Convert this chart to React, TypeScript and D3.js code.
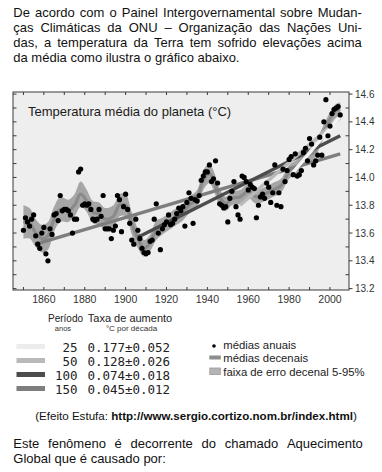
import React from 'react';
import * as d3 from 'd3';

// ---------- DATA ----------
const firstYear = 1850;
const annualMeans = [
  13.62, 13.71, 13.68, 13.65, 13.70, 13.73, 13.58, 13.52, 13.49, 13.60, // 1850s
  13.64, 13.45, 13.40, 13.63, 13.59, 13.73, 13.74, 13.69, 13.87, 13.76, // 1860s
  13.77, 13.77, 13.76, 13.73, 13.60, 13.70, 13.70, 14.04, 14.06, 13.80, // 1870s
  13.81, 13.80, 13.81, 13.77, 13.70, 13.69, 13.70, 13.77, 13.72, 13.87, // 1880s
  13.63, 13.63, 13.63, 13.56, 13.62, 13.65, 13.87, 13.84, 13.61, 13.79, // 1890s
  13.88, 13.77, 13.67, 13.55, 13.52, 13.70, 13.62, 13.56, 13.49, 13.46, // 1900s
  13.45, 13.46, 13.54, 13.55, 13.70, 13.81, 13.60, 13.48, 13.63, 13.66, // 1910s
  13.68, 13.73, 13.66, 13.67, 13.70, 13.74, 13.78, 13.76, 13.79, 13.65, // 1920s
  13.82, 13.89, 13.85, 13.67, 13.84, 13.83, 13.87, 13.98, 14.01, 14.04, // 1930s
  14.04, 14.09, 13.97, 13.99, 14.12, 13.96, 13.81, 13.80, 13.78, 13.79, // 1940s
  13.68, 13.85, 13.90, 13.97, 13.79, 13.73, 13.70, 14.01, 14.00, 13.97, // 1950s
  13.91, 13.95, 13.93, 13.92, 13.71, 13.80, 13.86, 13.88, 13.85, 13.96, // 1960s
  13.93, 13.82, 13.89, 14.09, 13.80, 13.89, 13.79, 14.06, 13.97, 14.05, // 1970s
  14.13, 14.15, 14.02, 14.17, 14.01, 14.02, 14.05, 14.18, 14.21, 14.12, // 1980s
  14.28, 14.24, 14.09, 14.12, 14.16, 14.29, 14.16, 14.40, 14.56, 14.30, // 1990s
  14.37, 14.46, 14.49, 14.50, 14.51, 14.45,                             // 2000s
];

const decadalYears = [1850, 1853, 1856, 1859, 1862, 1865, 1868, 1872, 1875, 1878, 1881, 1884, 1887, 1890, 1894, 1897, 1900, 1903, 1906, 1909, 1912, 1915, 1918, 1921, 1925, 1928, 1931, 1935, 1938, 1941, 1943, 1946, 1949, 1952, 1956, 1960, 1964, 1968, 1972, 1976, 1980, 1984, 1988, 1992, 1996, 2000, 2003, 2005];
const decadalMeans = [13.68, 13.67, 13.60, 13.56, 13.58, 13.70, 13.77, 13.76, 13.80, 13.88, 13.83, 13.75, 13.74, 13.70, 13.72, 13.80, 13.80, 13.67, 13.56, 13.49, 13.53, 13.62, 13.65, 13.68, 13.72, 13.75, 13.80, 13.85, 13.98, 14.03, 13.98, 13.86, 13.81, 13.85, 13.86, 13.90, 13.86, 13.88, 13.91, 13.94, 14.04, 14.08, 14.15, 14.18, 14.30, 14.42, 14.48, 14.49];
const decadalError = [0.12, 0.11, 0.10, 0.10, 0.10, 0.09, 0.09, 0.08, 0.08, 0.09, 0.08, 0.08, 0.08, 0.08, 0.08, 0.08, 0.08, 0.08, 0.07, 0.06, 0.06, 0.07, 0.06, 0.06, 0.06, 0.06, 0.06, 0.06, 0.07, 0.07, 0.07, 0.06, 0.05, 0.05, 0.05, 0.05, 0.05, 0.05, 0.05, 0.05, 0.05, 0.05, 0.05, 0.05, 0.05, 0.05, 0.05, 0.05];

const trendPeriods = [150, 100, 50, 25];
const trendRates = ['0.045±0.012', '0.074±0.018', '0.128±0.026', '0.177±0.052'];
const trendStartYears = [1856, 1906, 1956, 1981];
const trendEndYear = 2005;
const trendStartValues = [13.52, 13.57, 13.80, 14.02];
const trendEndValues = [14.17, 14.30, 14.43, 14.44];
const trendColors = ['#7e7e7e', '#4c4c4c', '#b9b9b9', '#f4f4f4'];

const xTickYears = d3.range(1850, 2010, 10);
const xLabelYears = [1860, 1880, 1900, 1920, 1940, 1960, 1980, 2000];
const yMinorTicks = d3.range(13.2, 14.61, 0.1);
const yLabelTicks = [13.2, 13.4, 13.6, 13.8, 14.0, 14.2, 14.4, 14.6];

const para1 = [
  'De acordo com o Painel Intergovernamental sobre Mudan-',
  'ças Climáticas da ONU – Organização das Nações Uni-',
  'das, a temperatura da Terra tem sofrido elevações acima',
  'da média como ilustra o gráfico abaixo.',
];
const para2 = [
  'Este fenômeno é decorrente do chamado Aquecimento',
  'Global que é causado por:',
];

// ---------- LAYOUT ----------
const W = 382, H = 472;
const frame = { left: 13, right: 349, top: 92, bottom: 290 };
const FONT = '"Liberation Sans", Arial, sans-serif';
const MONO = '"DejaVu Sans Mono", monospace';

const x = d3.scaleLinear().domain([1844.9, 2009.3]).range([frame.left, frame.right]);
const y = d3.scaleLinear().domain([13.19, 14.615]).range([frame.bottom, frame.top]);

let ctx: CanvasRenderingContext2D | null = null;
function measure(text: string, font: string) {
  if (!ctx) ctx = document.createElement('canvas').getContext('2d');
  if (!ctx) return text.length * 6;
  ctx.font = font;
  return ctx.measureText(text).width;
}

function Line({ text, x0, yb, width, size, justify }: any) {
  const font = `${size}px "Liberation Sans"`;
  if (!justify) {
    return <text x={x0} y={yb} fontSize={size} fontFamily={FONT} fill="#111">{text}</text>;
  }
  const words = text.split(' ');
  const ws = words.map((w: string) => measure(w, font));
  const gap = (width - d3.sum(ws)) / (words.length - 1);
  let cx = x0;
  return (
    <g>
      {words.map((w: string, i: number) => {
        const el = <text key={i} x={cx} y={yb} fontSize={size} fontFamily={FONT} fill="#111">{w}</text>;
        cx += ws[i] + gap;
        return el;
      })}
    </g>
  );
}

export default function App() {
  const pts = annualMeans.map((v, i) => ({ year: firstYear + i, v }));
  const dec = decadalYears.map((yr, i) => ({ yr, m: decadalMeans[i], e: decadalError[i] }));
  const area = d3.area<any>().x(d => x(d.yr)).y0(d => y(d.m - d.e)).y1(d => y(d.m + d.e)).curve(d3.curveCatmullRom);
  const line = d3.line<any>().x(d => x(d.yr)).y(d => y(d.m)).curve(d3.curveCatmullRom);

  const legRows = [25, 50, 100, 150];
  const legendRowY = (i: number) => 351.5 + i * 14;

  return (
    <svg width={W} height={H} style={{ position: 'absolute', left: 0, top: 0, background: '#fff' }}>
      {para1.map((t, i) => (
        <Line key={i} text={t} x0={13.3} yb={17 + i * 15} width={348.5} size={13} justify={i < para1.length - 1} />
      ))}

      {/* plot background */}
      <rect x={frame.left} y={frame.top} width={frame.right - frame.left} height={frame.bottom - frame.top} fill="#eeeeee" />
      <text x={28} y={115.5} fontSize={13} fontFamily={FONT} fill="#1a1a1a">Temperatura média do planeta (°C)</text>

      <path d={area(dec) || ''} fill="#a6a6a6" />
      <path d={line(dec) || ''} fill="none" stroke="#8a8a8a" strokeWidth={3.2} />

      {trendPeriods.map((p, i) => (
        <line key={p} x1={x(trendStartYears[i])} y1={y(trendStartValues[i])} x2={x(trendEndYear)} y2={y(trendEndValues[i])}
          stroke={trendColors[i]} strokeWidth={3.5} />
      ))}

      {pts.map(d => (
        <circle key={d.year} cx={x(d.year)} cy={y(d.v)} r={2.6} fill="#000" />
      ))}

      {/* frame */}
      <rect x={frame.left} y={frame.top} width={frame.right - frame.left} height={frame.bottom - frame.top} fill="none" stroke="#3a3a3a" strokeWidth={1} />
      {xTickYears.map(t => (
        <g key={t}>
          <line x1={x(t)} x2={x(t)} y1={frame.bottom} y2={frame.bottom - 3} stroke="#3a3a3a" />
          <line x1={x(t)} x2={x(t)} y1={frame.top} y2={frame.top + 3} stroke="#3a3a3a" />
        </g>
      ))}
      {xLabelYears.map(t => (
        <text key={t} x={x(t)} y={302.5} textAnchor="middle" fontSize={10.5} fontFamily={FONT} fill="#333">{t}</text>
      ))}
      {yMinorTicks.map((t, i) => (
        <g key={i}>
          <line x1={frame.left} x2={frame.left + 3.5} y1={y(t)} y2={y(t)} stroke="#3a3a3a" />
          {i % 2 === 1 && <line x1={frame.right} x2={frame.right - 3.5} y1={y(t)} y2={y(t)} stroke="#3a3a3a" />}
        </g>
      ))}
      {yLabelTicks.map(t => (
        <g key={t}>
          <line x1={frame.right} x2={frame.right + 3.5} y1={y(t)} y2={y(t)} stroke="#3a3a3a" />
          <text x={355} y={y(t) + 3.6} fontSize={10} fontFamily={FONT} fill="#333">{t.toFixed(1)}</text>
        </g>
      ))}

      {/* left legend */}
      <text x={65.5} y={321.5} textAnchor="middle" fontSize={10} fontFamily={FONT} fill="#222">Período</text>
      <text x={63} y={331} textAnchor="middle" fontSize={7.5} fontFamily={FONT} fill="#333">anos</text>
      <text x={130} y={321.5} textAnchor="middle" fontSize={11} fontFamily={FONT} fill="#222">Taxa de aumento</text>
      <text x={131.5} y={331} textAnchor="middle" fontSize={8} fontFamily={FONT} fill="#333">°C por década</text>
      {legRows.map((p, i) => {
        const k = trendPeriods.indexOf(p);
        const yy = legendRowY(i);
        return (
          <g key={p}>
            <rect x={16.5} y={yy - 7.5} width={28.5} height={5} fill={trendColors[k] === '#f4f4f4' ? '#ececec' : trendColors[k]} />
            <text x={77.5} y={yy} textAnchor="end" fontSize={12.5} fontFamily={MONO} fill="#222">{p}</text>
            <text x={87.5} y={yy} fontSize={12.5} fontFamily={MONO} fill="#222" textLength={82.5} lengthAdjust="spacing">{trendRates[k]}</text>
          </g>
        );
      })}

      {/* right legend */}
      <circle cx={214} cy={346} r={1.8} fill="#000" />
      <text x={223.3} y={348.5} fontSize={11.3} fontFamily={FONT} fill="#222">médias anuais</text>
      <rect x={209.3} y={355.5} width={11.5} height={4} fill="#8d8d8d" />
      <text x={223.3} y={361.5} fontSize={11.3} fontFamily={FONT} fill="#222">médias decenais</text>
      <rect x={209.8} y={368} width={10.5} height={6.5} fill="#b4b4b4" stroke="#9a9a9a" strokeWidth={0.8} />
      <text x={223.3} y={375.5} fontSize={11.3} fontFamily={FONT} fill="#222">faixa de erro decenal 5-95%</text>

      {/* citation */}
      <text x={196} y={419.5} textAnchor="middle" fontSize={11.6} fontFamily={FONT} fill="#111">
        <tspan>(Efeito Estufa: </tspan>
        <tspan fontWeight="bold">http://www.sergio.cortizo.nom.br/index.html</tspan>
        <tspan>)</tspan>
      </text>

      {para2.map((t, i) => (
        <Line key={i} text={t} x0={13.3} yb={448 + i * 15} width={349.5} size={13} justify={i < para2.length - 1} />
      ))}
    </svg>
  );
}
